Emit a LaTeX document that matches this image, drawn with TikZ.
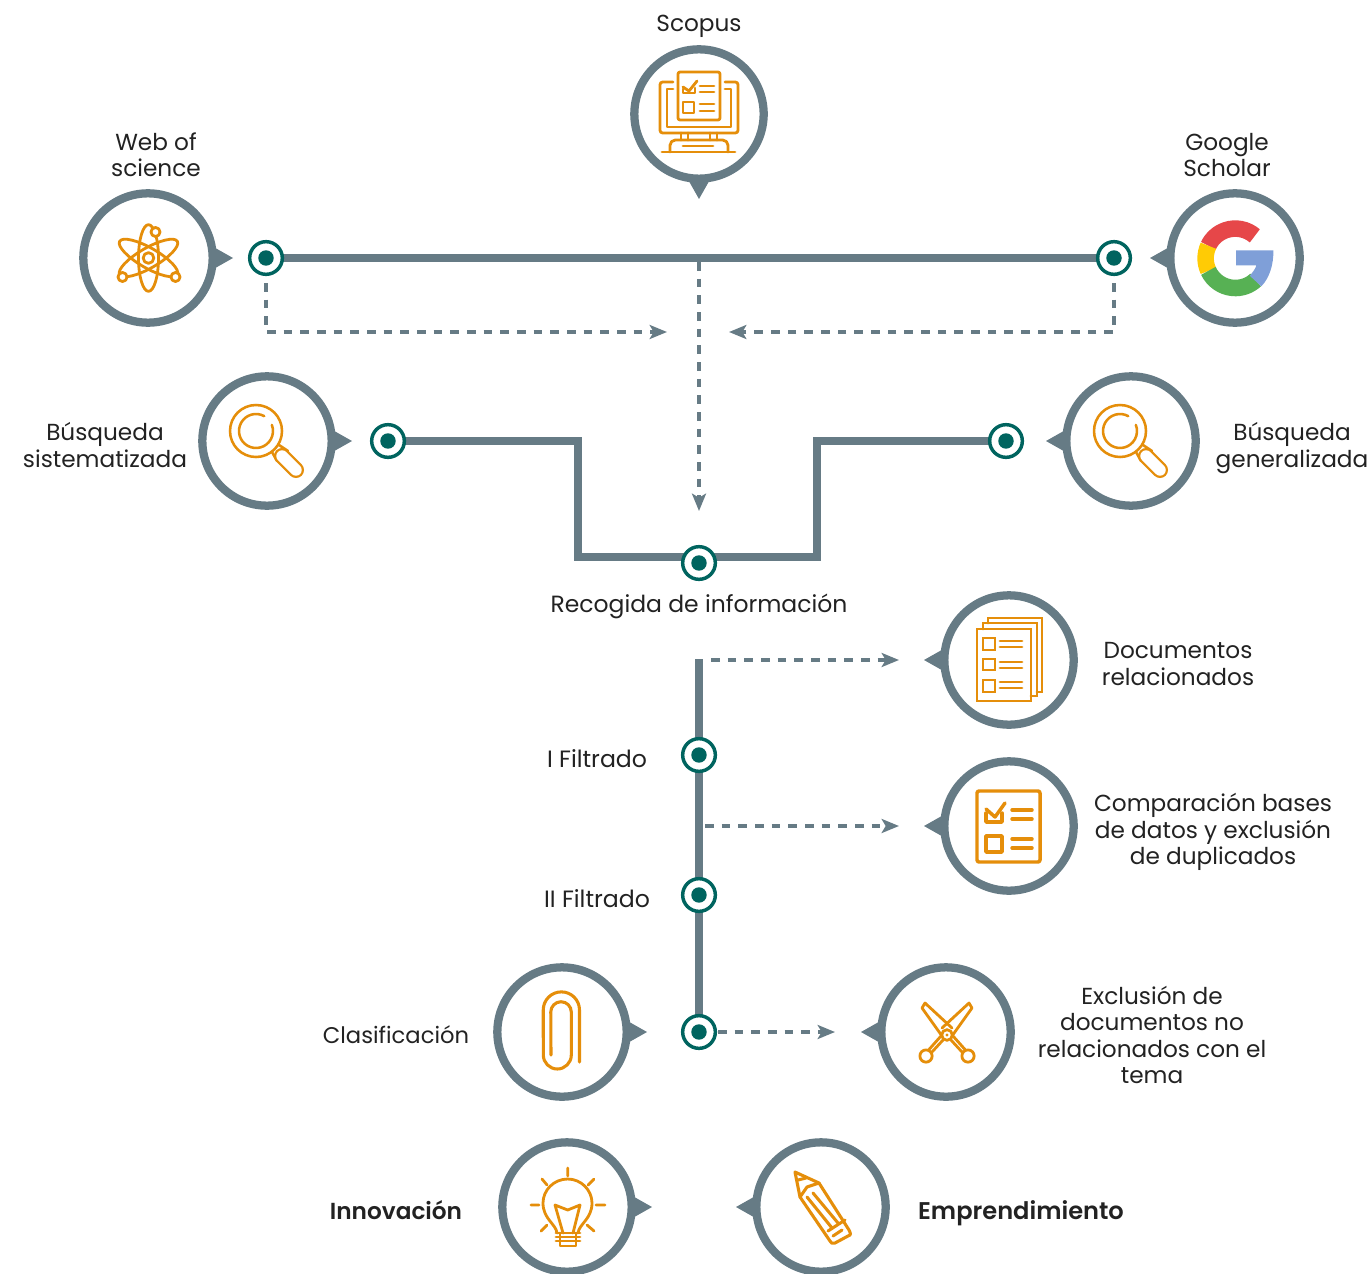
\documentclass[tikz,border=0pt]{standalone}
\usepackage{fontspec}
\setmainfont[BoldFont={Poppins SemiBold}]{Poppins}
\usetikzlibrary{arrows.meta,backgrounds}
\definecolor{ringcol}{HTML}{667B85}
\definecolor{tealcol}{HTML}{00645F}
\definecolor{icocol}{HTML}{E58E0A}
\definecolor{txtcol}{HTML}{222222}
\definecolor{gred}{HTML}{E64749}
\definecolor{gyel}{HTML}{FFCB05}
\definecolor{ggre}{HTML}{57B154}
\definecolor{gblu}{HTML}{7F9FD8}
\tikzset{
  ring/.style={circle,draw=ringcol,line width=6.2pt,fill=white,minimum size=97pt,inner sep=0pt,outer sep=0pt},
  stopdot/.style={circle,draw=tealcol,line width=2.6pt,fill=white,minimum size=24.5pt,inner sep=0pt,outer sep=0pt},
  thickline/.style={draw=ringcol,line width=6pt,line join=miter},
  dashline/.style={draw=ringcol,line width=2.4pt,dash pattern=on 6.6pt off 5.9pt,-{Stealth[length=13pt,width=10.5pt,inset=3pt]}},
  ico/.style={draw=icocol,line width=2.1pt,line cap=round,line join=round},
  lab/.style={text=txtcol,font=\fontsize{17.4pt}{19.8pt}\selectfont,align=center,inner sep=0pt},
  blab/.style={lab,font=\fontsize{17.4pt}{19.8pt}\selectfont\bfseries},
}
\newcommand{\ringat}[4]{%
  \fill[ringcol,shift={(#2,#3)},rotate=#4] (62,-13)--(85,0)--(62,13)--cycle;
  \node[ring] (#1) at (#2,#3) {};}
\newcommand{\dotat}[3]{%
  \node[stopdot] (#1) at (#2,#3) {};
  \fill[tealcol] (#1.center) circle[radius=5.8pt];}
\begin{document}
\begin{tikzpicture}[x=0.75pt,y=-0.75pt]
\useasboundingbox (0,0) rectangle (1369,1273);
% rings
\ringat{scopus}{699}{114}{-90}
\ringat{wos}{148}{258}{0}
\ringat{google}{1235}{258}{180}
\ringat{bsis}{267}{441}{0}
\ringat{bgen}{1131}{441}{180}
\ringat{docs}{1009}{660}{180}
\ringat{comp}{1009}{826}{180}
\ringat{clas}{562}{1032}{0}
\ringat{excl}{946}{1032}{180}
\ringat{inno}{567}{1207}{0}
\ringat{empr}{821}{1207}{180}
% stops
\dotat{dwos}{266}{258}
\dotat{dgoo}{1114}{258}
\dotat{dsis}{388}{441}
\dotat{dgen}{1006}{441}
\dotat{drec}{699}{563}
\dotat{dfa}{699}{755}
\dotat{dfb}{699}{895}
\dotat{dcl}{699}{1032}
% free ends
\coordinate (bendA) at (578,441);
\coordinate (bendB) at (578,557);
\coordinate (bendC) at (817,557);
\coordinate (bendD) at (817,441);
\coordinate (vtop) at (699,659);
\coordinate (mid) at (699,262);
\coordinate (midend) at (699,511);
\coordinate (wosA) at (266,283);
\coordinate (wosB) at (266,332);
\coordinate (wosC) at (667,332);
\coordinate (gooA) at (1114,283);
\coordinate (gooB) at (1114,332);
\coordinate (gooC) at (729,332);
\coordinate (ra) at (711,660);
\coordinate (rb) at (899,660);
\coordinate (sa) at (705,826);
\coordinate (sb) at (899,826);
\coordinate (ta) at (718,1032);
\coordinate (tb) at (835,1032);
\begin{scope}[on background layer]
\draw[thickline] (dwos.center) -- (dgoo.center);
\draw[thickline] (dsis.center) -- (bendA) -- (bendB) -- (bendC) -- (bendD) -- (dgen.center);
\draw[thickline] (vtop) -- (dcl.center);
\end{scope}
\path[dashline] (wosA) -- (wosB) -- (wosC);
\path[dashline] (gooA) -- (gooB) -- (gooC);
\path[dashline] (mid) -- (midend);
\path[dashline] (ra) -- (rb);
\path[dashline] (sa) -- (sb);
\path[dashline] (ta) -- (tb);
% labels
\node[lab] (lscopus) at (699,26) {Scopus};
\node[lab] (lwos) at (156,155) {Web of\\science};
\node[lab] (lgoo) at (1227,155) {Google\\Scholar};
\node[lab] (lsis) at (105,445) {Búsqueda\\sistematizada};
\node[lab] (lgen) at (1292,448) {Búsqueda\\generalizada};
\node[lab,font=\fontsize{17.6pt}{19.8pt}\selectfont] (lrec) at (699,606) {Recogida de información};
\node[lab] (ldoc) at (1178,664) {Documentos\\relacionados};
\node[lab] (lcomp) at (1213,832) {Comparación bases\\de datos y exclusión\\de duplicados};
\node[lab,font=\fontsize{17.7pt}{19.8pt}\selectfont] (lfa) at (597,759) {I Filtrado};
\node[lab,font=\fontsize{17.7pt}{19.8pt}\selectfont] (lfb) at (597,899) {II Filtrado};
\node[lab,font=\fontsize{17pt}{19.8pt}\selectfont] (lclas) at (396,1035) {Clasificación};
\node[lab] (lexcl) at (1152,1035) {Exclusión de\\documentos no\\relacionados con el\\tema};
\node[blab] (linno) at (396,1210) {Innovación};
\node[blab,font=\fontsize{18.1pt}{19.8pt}\selectfont\bfseries] (lempr) at (1021,1213) {Emprendimiento};
% Scopus icon
\begin{scope}[shift={(699,114)},ico]
\draw[rounded corners=1.5pt] (-21,-42) rectangle (21,6);
\draw[rounded corners=2pt] (-26,-32) -- (-39,-32) -- (-39,19) -- (39,19) -- (39,-32) -- (26,-32);
\draw (-26,-25) -- (-32,-25) -- (-32,13) -- (32,13) -- (32,-25) -- (26,-25);
\draw (-18,19) -- (-18,26) (-11,19) -- (-11,26) (11,19) -- (11,26) (18,19) -- (18,26);
\draw[rounded corners=4pt] (-29,38) -- (-29,26) -- (29,26) -- (29,38);
\draw (-37,38) -- (36,38) (-16,32) -- (14,32);
\draw (-16,-27) -- (-10,-23) -- (-2,-33);
\draw (-16,-25) -- (-16,-21) -- (-4,-21) -- (-4,-26);
\draw (1,-28) -- (15,-28) (1,-22) -- (15,-22) (1,-10) -- (15,-10) (1,-3) -- (15,-3);
\draw (-16,-12) rectangle (-5,-1);
\end{scope}
% Atom icon
\begin{scope}[shift={(148.5,258)},ico]
\draw (0,0) circle[radius=4pt];
\draw (0,0) circle[x radius=7.5pt,y radius=25pt];
\draw[rotate=60] (0,0) circle[x radius=7.5pt,y radius=25pt];
\draw[rotate=-60] (0,0) circle[x radius=7.5pt,y radius=25pt];
\draw[fill=white] (7,-26) circle[radius=3.4pt];
\draw[fill=white] (-26,19) circle[radius=3.4pt];
\draw[fill=white] (27,19) circle[radius=3.4pt];
\end{scope}
% Google icon
\begin{scope}[shift={(1235.3,258.3)},x=0.75pt,y=0.75pt]
\draw[gred,line width=12.4pt] (49:29.7) arc[start angle=49,end angle=155,radius=22.3pt];
\draw[gyel,line width=12.4pt] (155:29.7) arc[start angle=155,end angle=205,radius=22.3pt];
\draw[ggre,line width=12.4pt] (205:29.7) arc[start angle=205,end angle=313,radius=22.3pt];
\fill[gblu] (0.7,8) -- (38,8) .. controls (38.5,-6) and (34,-20) .. (26,-28) -- (14.5,-17.5) .. controls (18,-13) and (20.5,-10) .. (21,-7) -- (0.7,-7) -- cycle;
\end{scope}
% Magnifier icons
\foreach \cx/\cy in {267/441,1131/441}{
\begin{scope}[shift={(\cx,\cy)},ico,line width=1.9pt]
\draw (-11,-10) circle[radius=19.5pt];
\draw (-11,-10) ++(61:12.75pt) arc[start angle=61,end angle=381,radius=12.75pt];
\draw (5,11) -- (10,20) (12,4) -- (21,10);
\draw[line width=12pt] (15,15) -- (29,29);
\draw[draw=white,line width=8.6pt] (15,15) -- (29,29);
\end{scope}}
% Documents icon
\begin{scope}[shift={(1009,660)},ico,line join=miter,line width=2.1pt]
\draw (-32,-31) rectangle (22,41);
\draw (-26,-31) -- (-26,-37) -- (28,-37) -- (28,36) -- (22,36);
\draw (-21,-37) -- (-21,-42) -- (33,-42) -- (33,32) -- (28,32);
\draw (-26,-22) rectangle (-14,-10) (-26,-1) rectangle (-14,10) (-26,20) rectangle (-14,32);
\draw (-9,-19) -- (13,-19) (-9,-13) -- (13,-13) (-9,2) -- (13,2) (-9,8) -- (13,8) (-9,22) -- (13,22) (-9,28) -- (13,28);
\end{scope}
% Comparison icon
\begin{scope}[shift={(1009,826)},ico,line width=2.6pt]
\draw[rounded corners=1.5pt] (-32,-35) rectangle (31,36);
\draw (-23,-17) -- (-14,-9) -- (-4,-23);
\draw (-23,-13) -- (-23,-4) -- (-7,-4) -- (-7,-13);
\draw (3,-16) -- (23,-16) (3,-7) -- (23,-7) (3,13) -- (23,13) (3,22) -- (23,22);
\draw (-23,10) rectangle (-7,26);
\end{scope}
% Paperclip icon
\begin{scope}[shift={(562,1032)},ico,line width=2.3pt]
\draw (17.5,30) -- (17.5,-22) arc[start angle=0,end angle=180,radius=13.6pt] -- (-18.7,23) arc[start angle=180,end angle=360,radius=10.5pt] -- (9.3,-20) arc[start angle=0,end angle=180,radius=7.7pt] -- (-11,23);
\end{scope}
% Scissors icon
\begin{scope}[shift={(946,1032)},ico]
\draw (-4,4) -- (-24,-24) -- (-21,-29) -- (6,-4);
\draw (6,4) -- (26,-24) -- (23,-29) -- (-4,-4);
\draw[fill=white] (1,3) circle[radius=4pt];
\fill[icocol] (1,3) circle[radius=1.2pt];
\draw (-20,24) circle[radius=4.6pt] (22,24) circle[radius=4.6pt];
\draw (-14,20) -- (-3,8) (-17,17.5) -- (-5,4);
\draw (16,20) -- (5,8) (19,17.5) -- (7,4);
\end{scope}
% Bulb icon
\begin{scope}[shift={(567,1207)},ico]
\draw (-10,26) .. controls (-11,17) and (-24,12) .. (-24,-4) .. controls (-24,-17) and (-13,-28) .. (0.7,-28) .. controls (14,-28) and (25,-17) .. (25,-4) .. controls (25,12) and (12,17) .. (11,26);
\draw (-4,26) -- (-12,-2) -- (0.7,3) -- (13,-2) -- (6,26);
\draw (-11,26) -- (13,26) (-11,34) -- (13,34) (-11,30) -- (13,30);
\draw (-7,26) -- (-7,39) -- (9,39) -- (9,26);
\draw (0.7,-39) -- (0.7,-31) (-25,-28) -- (-20,-22) (27,-28) -- (21,-22);
\draw (-36,-2) -- (-28,-2) (29,-2) -- (38,-2) (-26,24) -- (-20,18) (27,24) -- (20,18);
\end{scope}
% Pencil icon
\begin{scope}[shift={(821,1207)},ico,line width=2.3pt]
\draw (-26,-35) -- (-2,-24) -- (28,23) .. controls (30,27) and (30,28) .. (27,29) -- (14,36) .. controls (11,37) and (10,36) .. (9,34) -- (-21,-10) -- cycle;
\draw (-2,-24) -- (-14,-20) -- (-21,-10);
\draw (-23,-27) -- (-15,-29);
\draw (-14,-10) -- (11,21) (-8,-14) -- (17,16);
\draw (7,24) -- (24,13) (12,29) -- (21,23);
\end{scope}
\end{tikzpicture}
\end{document}
